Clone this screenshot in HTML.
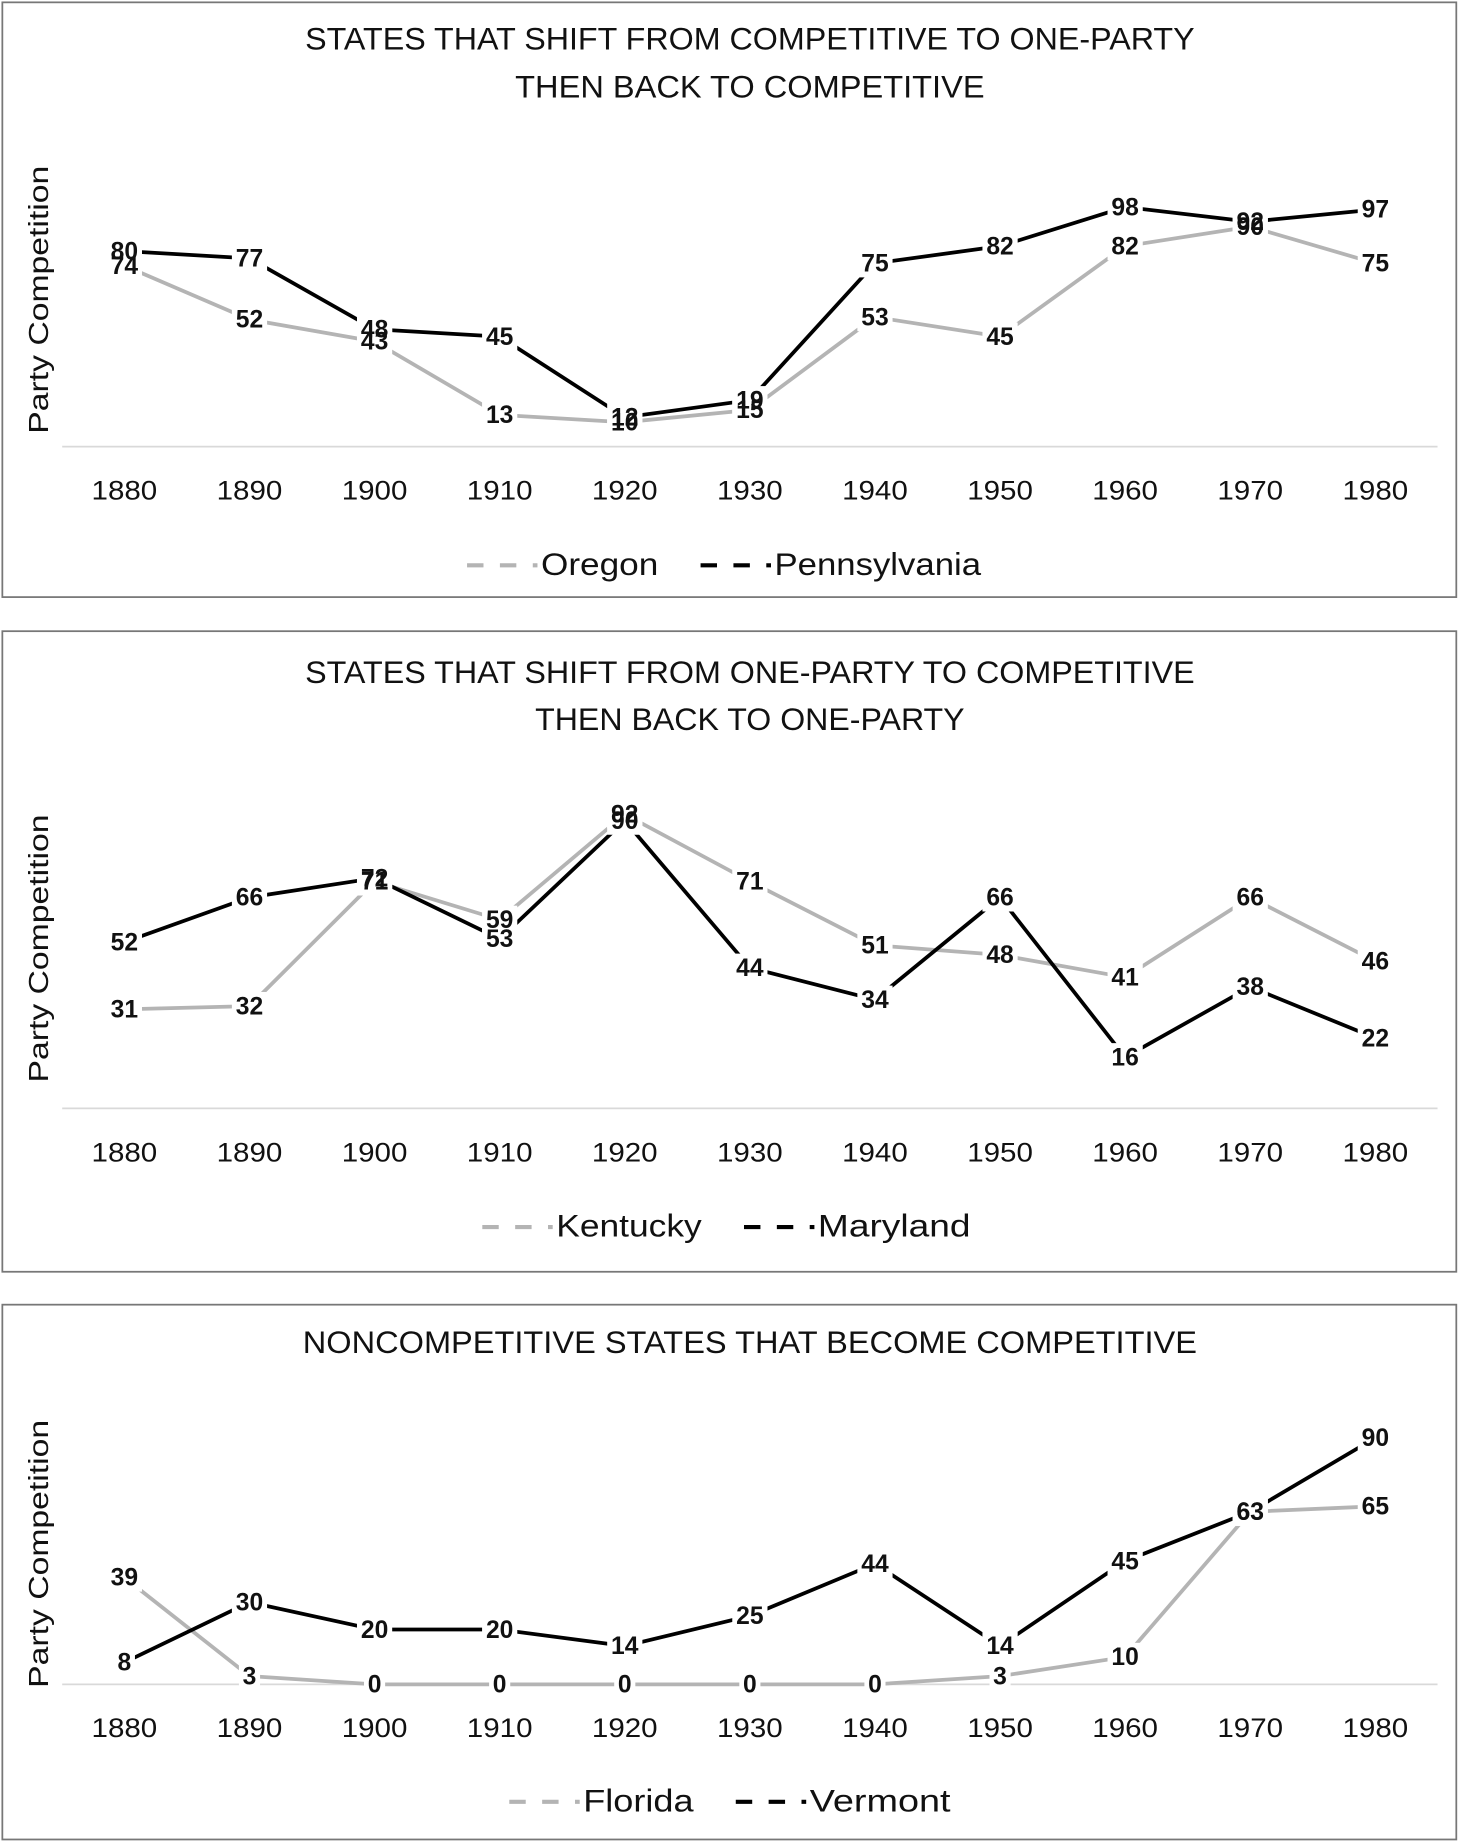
<!DOCTYPE html>
<html><head><meta charset="utf-8"><style>
html,body{margin:0;padding:0;background:#fff}
svg{display:block}
text{font-family:"Liberation Sans",sans-serif}
</style></head><body>
<svg id="s" width="1461" height="1843" viewBox="0 0 1245 1568" preserveAspectRatio="none" xmlns="http://www.w3.org/2000/svg"></svg>
<script>
const years = ["1880","1890","1900","1910","1920","1930","1940","1950","1960","1970","1980"];
const oregon = [74,52,43,13,10,15,53,45,82,90,75];
const pennsylvania = [80,77,48,45,12,19,75,82,98,92,97];
const kentucky = [31,32,71,59,92,71,51,48,41,66,46];
const maryland = [52,66,72,53,90,44,34,66,16,38,22];
const florida = [39,3,0,0,0,0,0,3,10,63,65];
const vermont = [8,30,20,20,14,25,44,14,45,63,90];

const NS="http://www.w3.org/2000/svg";
const svg=document.getElementById('s');
function mk(tag,attrs,parent){const e=document.createElementNS(NS,tag);for(const k in attrs)e.setAttribute(k,attrs[k]);(parent||svg).appendChild(e);return e;}
const GRAY="#b4b4b4";
const charts=[
 {name:"competitive-to-one-party",box:[2,2,1239,506],titles:["STATES THAT SHIFT FROM COMPETITIVE TO ONE-PARTY","THEN BACK TO COMPETITIVE"],titleY:[42,83],titleW:[758,400],base:380,unit:2.08,tickY:425,legY:489,ytitleY:255,s1:oregon,s2:pennsylvania,n1:"Oregon",n2:"Pennsylvania",lx:398,l1w:100,l2w:176},
 {name:"one-party-to-competitive",box:[2,537,1239,545],titles:["STATES THAT SHIFT FROM ONE-PARTY TO COMPETITIVE","THEN BACK TO ONE-PARTY"],titleY:[581,621],titleW:[758,366],base:943,unit:2.72,tickY:988,legY:1052,ytitleY:807,s1:kentucky,s2:maryland,n1:"Kentucky",n2:"Maryland",lx:411,l1w:124,l2w:130},
 {name:"noncompetitive-to-competitive",box:[2,1110,1239,455],titles:["NONCOMPETITIVE STATES THAT BECOME COMPETITIVE"],titleY:[1151],titleW:[762],base:1433,unit:2.33,tickY:1478,legY:1541,ytitleY:1322,s1:florida,s2:vermont,n1:"Florida",n2:"Vermont",lx:434,l1w:94,l2w:120}
];
function xAt(i){return 106+i*106.6;}
charts.forEach(c=>{
 const g=mk('g',{});
 
 
 const r=mk('rect',{x:c.box[0],y:c.box[1],width:c.box[2],height:c.box[3],fill:'#fff',stroke:'#777','stroke-width':1.5},g);
 
 
 c.titles.forEach((t,i)=>{
  const e=mk('text',{x:639,y:c.titleY[i],'text-anchor':'middle','font-size':27,fill:'#111',textLength:c.titleW[i],lengthAdjust:'spacingAndGlyphs'},g);
  e.textContent=t;
  
  
 });
 const yt=mk('text',{x:0,y:0,'text-anchor':'middle','font-size':24,fill:'#111',transform:`translate(41,${c.ytitleY}) rotate(-90)`,textLength:228,lengthAdjust:'spacingAndGlyphs'},g);
 yt.textContent="Party Competition";
 
 
 const ax=mk('line',{x1:53,x2:1225,y1:c.base,y2:c.base,stroke:'#d9d9d9','stroke-width':1.5},g);
 
 
 years.forEach((y,i)=>{
  const t=mk('text',{x:xAt(i),y:c.tickY,'text-anchor':'middle','font-size':23,fill:'#111',textLength:56,lengthAdjust:'spacingAndGlyphs'},g);
  t.textContent=y;
  
  
 });
 const yAt=v=>c.base-v*c.unit;
 [[c.s1,GRAY,c.n1],[c.s2,'#000',c.n2]].forEach(([d,col,n])=>{
  const p=mk('polyline',{points:d.map((v,i)=>xAt(i)+','+yAt(v)).join(' '),fill:'none',stroke:col,'stroke-width':3.2,'stroke-linejoin':'round'},g);
  
  
 });
 [[c.s1,c.n1],[c.s2,c.n2]].forEach(([d,n])=>{
  d.forEach((v,i)=>{
   const w=String(v).length*12+6;
   const bg=mk('rect',{x:xAt(i)-w/2,y:yAt(v)-12,width:w,height:24,fill:'#fff'},g);
   
   
  });
 });
 [[c.s1,c.n1],[c.s2,c.n2]].forEach(([d,n])=>{
  d.forEach((v,i)=>{
   const t=mk('text',{x:xAt(i),y:yAt(v)+7,'text-anchor':'middle','font-size':21,'font-weight':'bold',fill:'#111'},g);
   t.textContent=v;
   
   
  });
 });
 let x=c.lx;
 [[c.n1,GRAY,c.l1w],[c.n2,'#000',c.l2w]].forEach(([n,col,w])=>{
  const lg=mk('g',{},g);
  
  
  mk('line',{x1:x,x2:x+60,y1:c.legY-8,y2:c.legY-8,stroke:col,'stroke-width':3.5,'stroke-dasharray':'14,14'},lg);
  const t=mk('text',{x:x+63,y:c.legY,'font-size':27,fill:'#111',textLength:w,lengthAdjust:'spacingAndGlyphs'},lg);
  t.textContent=n;
  x+=63+w+36;
 });
});
</script>
</body></html>
